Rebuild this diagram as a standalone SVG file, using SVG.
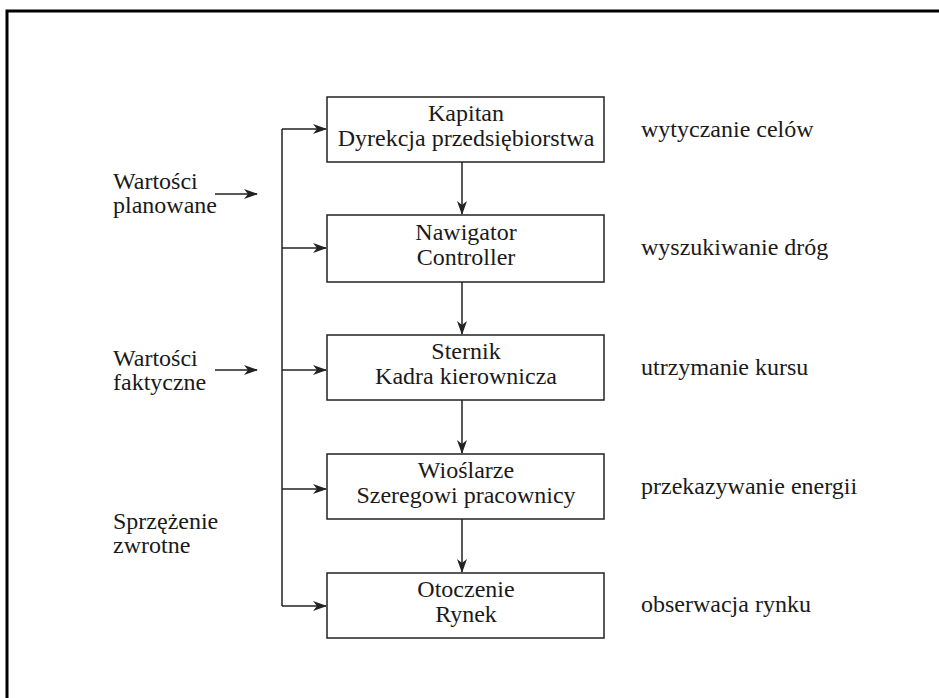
<svg xmlns="http://www.w3.org/2000/svg" width="939" height="698" viewBox="0 0 939 698">
<style>
text{font-family:'Liberation Serif','DejaVu Serif','Times New Roman',serif;font-size:24px;fill:#1a1a1a}
.c{text-anchor:middle}
.box{fill:#fff;stroke:#222;stroke-width:1.5}
.ln{fill:none;stroke:#222;stroke-width:1.5}
.fr{fill:none;stroke:#000;stroke-width:3}
</style>
<defs>
<marker id="ah" viewBox="0 0 14 10" refX="13" refY="5" markerWidth="14" markerHeight="10" markerUnits="userSpaceOnUse" orient="auto">
<path d="M0,0 L14,5 L0,10 L4,5 Z" fill="#222"/>
</marker>
</defs>
<rect width="939" height="698" fill="#fff"/>
<path class="fr" d="M7,710 L7,11 L950,11"/>
<g id="connectors">
<path class="ln" d="M282,129 L282,606"/>
<path class="ln" d="M282,129 L326,129" marker-end="url(#ah)"/>
<path class="ln" d="M282,248 L326,248" marker-end="url(#ah)"/>
<path class="ln" d="M282,370 L326,370" marker-end="url(#ah)"/>
<path class="ln" d="M282,489 L326,489" marker-end="url(#ah)"/>
<path class="ln" d="M282,606 L326,606" marker-end="url(#ah)"/>
<path class="ln" d="M215,194 L257,194" marker-end="url(#ah)"/>
<path class="ln" d="M215,370 L257,370" marker-end="url(#ah)"/>
<path class="ln" d="M462,162 L462,214" marker-end="url(#ah)"/>
<path class="ln" d="M462,282 L462,334" marker-end="url(#ah)"/>
<path class="ln" d="M462,400 L462,453" marker-end="url(#ah)"/>
<path class="ln" d="M462,519 L462,572" marker-end="url(#ah)"/>
</g>
<g id="n1"><rect class="box" x="327" y="97" width="277" height="65"/><text class="c" x="466" y="121">Kapitan</text><text class="c" x="466" y="146">Dyrekcja przedsiębiorstwa</text></g>
<g id="n2"><rect class="box" x="327" y="215" width="277" height="67"/><text class="c" x="466" y="240">Nawigator</text><text class="c" x="466" y="265">Controller</text></g>
<g id="n3"><rect class="box" x="327" y="335" width="277" height="65"/><text class="c" x="466" y="359">Sternik</text><text class="c" x="466" y="384">Kadra kierownicza</text></g>
<g id="n4"><rect class="box" x="327" y="454" width="277" height="65"/><text class="c" x="466" y="478">Wioślarze</text><text class="c" x="466" y="503">Szeregowi pracownicy</text></g>
<g id="n5"><rect class="box" x="327" y="573" width="277" height="65"/><text class="c" x="466" y="597">Otoczenie</text><text class="c" x="466" y="622">Rynek</text></g>
<g id="left-labels">
<text x="113" y="189">Wartości</text><text x="113" y="213">planowane</text>
<text x="113" y="366">Wartości</text><text x="113" y="390">faktyczne</text>
<text x="113" y="529">Sprzężenie</text><text x="113" y="553">zwrotne</text>
</g>
<g id="right-labels">
<text x="641" y="137">wytyczanie celów</text>
<text x="641" y="255">wyszukiwanie dróg</text>
<text x="641" y="375">utrzymanie kursu</text>
<text x="641" y="494">przekazywanie energii</text>
<text x="641" y="612">obserwacja rynku</text>
</g>
</svg>
